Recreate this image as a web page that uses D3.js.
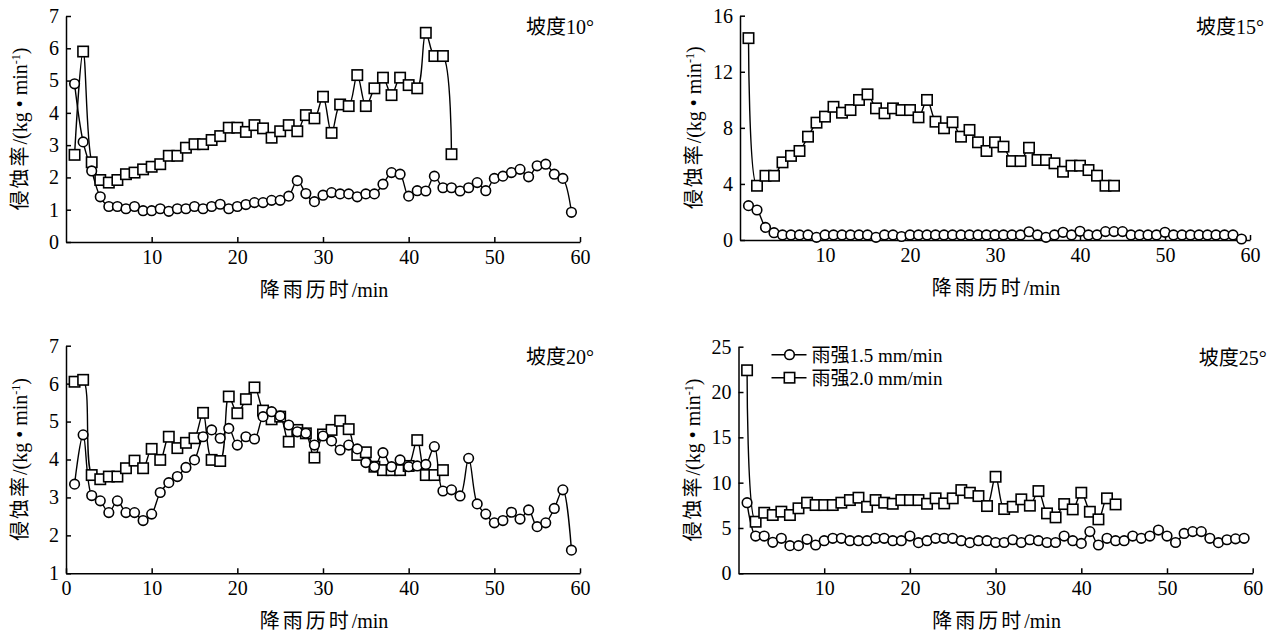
<!DOCTYPE html>
<html>
<head>
<meta charset="utf-8">
<script src="https://cdn.jsdelivr.net/npm/d3@7"></script>
<style>
body { margin: 0; background: #fff; }
text { font-family: "Liberation Serif", "Noto Sans CJK SC", serif; fill: #000; }
.axis path, .axis line { stroke: #000; stroke-width: 1.5; }
</style>
</head>
<body>
<svg id="chart" width="1272" height="637"></svg>
<script>

// rainfall duration, minutes
var minutes = [1,2,3,4,5,6,7,8,9,10,11,12,13,14,15,16,17,18,19,20,
               21,22,23,24,25,26,27,28,29,30,31,32,33,34,35,36,37,38,39,40,
               41,42,43,44,45,46,47,48,49,50,51,52,53,54,55,56,57,58,59];

var seriesNames = ["雨强1.5 mm/min", "雨强2.0 mm/min"];

// slope 10
var slope10_15 = [4.9,3.1,2.2,1.4,1.1,1.1,1.03,1.1,0.97,0.97,
                  1.03,0.95,1.03,1.03,1.1,1.03,1.1,1.17,1.03,1.1,
                  1.16,1.22,1.22,1.29,1.29,1.42,1.9,1.5,1.25,1.45,
                  1.53,1.49,1.49,1.4,1.49,1.49,1.79,2.15,2.1,1.42,
                  1.59,1.58,2.04,1.68,1.68,1.58,1.68,1.84,1.59,1.97,
                  2.04,2.15,2.25,2.02,2.36,2.41,2.1,1.97,0.92];
var slope10_20 = [2.7,5.9,2.47,1.92,1.84,1.92,2.1,2.15,2.25,2.33,
                  2.41,2.67,2.67,2.92,3.03,3.03,3.16,3.28,3.54,3.54,
                  3.41,3.62,3.52,3.23,3.43,3.62,3.43,3.93,3.83,4.5,
                  3.38,4.26,4.21,5.17,4.21,4.76,5.09,4.55,5.09,4.86,
                  4.76,6.48,5.76,5.76,2.72];

// slope 15
var slope15_15 = [2.45,2.14,0.9,0.52,0.36,0.36,0.36,0.36,0.19,0.36,
                  0.36,0.36,0.36,0.36,0.36,0.19,0.36,0.36,0.25,0.36,
                  0.36,0.36,0.36,0.36,0.36,0.36,0.36,0.36,0.36,0.36,
                  0.36,0.36,0.36,0.59,0.36,0.19,0.36,0.55,0.36,0.62,
                  0.36,0.36,0.6,0.6,0.6,0.36,0.36,0.36,0.36,0.55,
                  0.36,0.36,0.36,0.36,0.36,0.36,0.36,0.36,0.07];
var slope15_20 = [14.4,3.87,4.58,4.58,5.54,6.0,6.35,7.37,8.37,8.8,
                  9.5,9.08,9.27,9.99,10.39,9.39,9.04,9.39,9.27,9.27,
                  8.75,9.99,8.44,7.97,8.4,7.37,7.85,6.97,6.35,6.97,
                  6.66,5.63,5.63,6.58,5.71,5.71,5.47,4.87,5.3,5.3,
                  4.99,4.59,3.87,3.87];

// slope 20
var slope20_15 = [3.35,4.65,3.05,2.91,2.6,2.91,2.6,2.6,2.39,2.56,
                  3.13,3.39,3.55,3.79,3.99,4.6,4.78,4.56,4.82,4.38,
                  4.6,4.54,5.13,5.26,5.15,4.91,4.73,4.69,4.38,4.62,
                  4.49,4.25,4.38,4.28,3.92,3.81,4.18,3.81,3.99,3.81,
                  3.83,3.87,4.34,3.17,3.2,3.04,4.03,2.83,2.56,2.33,
                  2.39,2.61,2.43,2.67,2.23,2.33,2.71,3.2,1.61];
var slope20_20 = [6.05,6.1,3.59,3.48,3.55,3.55,3.77,3.97,3.77,4.28,
                  3.99,4.6,4.3,4.44,4.56,5.23,3.99,3.96,5.66,5.22,
                  5.59,5.9,5.29,5.06,5.13,4.47,4.78,4.69,4.05,4.66,
                  4.78,5.02,4.8,4.12,4.19,3.81,3.72,3.72,3.72,3.83,
                  4.51,3.59,3.59,3.72];

// slope 25
var slope25_15 = [7.79,4.11,4.11,3.42,3.86,3.05,3.05,3.75,3.12,3.6,
                  3.86,3.86,3.6,3.6,3.6,3.86,3.86,3.6,3.6,4.11,
                  3.38,3.6,3.86,3.86,3.86,3.6,3.38,3.6,3.6,3.4,
                  3.4,3.7,3.4,3.7,3.6,3.4,3.4,4.11,3.6,3.3,
                  4.6,3.12,3.86,3.6,3.6,4.11,3.86,4.11,4.77,4.11,
                  3.4,4.4,4.6,4.6,3.86,3.38,3.7,3.8,3.86];
var slope25_20 = [22.4,5.69,6.68,6.43,6.8,6.43,7.17,7.79,7.53,7.53,
                  7.53,7.79,8.08,8.34,7.34,8.08,7.79,7.67,8.08,8.08,
                  8.08,7.67,8.27,7.71,8.27,9.18,8.89,8.52,7.42,10.65,
                  7.09,7.34,8.16,7.46,9.07,6.61,6.17,7.64,7.05,8.89,
                  6.79,5.95,8.27,7.6];

var xTicksShort = [10,20,30,40,50,60];
var xTicksFull = [0,10,20,30,40,50,60];
var yTicks10 = [0,1,2,3,4,5,6,7];
var yTicks15 = [0,4,8,12,16];
var yTicks20 = [1,2,3,4,5,6,7];
var yTicks25 = [0,5,10,15,20,25];

var panels = [
    { title: "坡度10°", a: slope10_15, b: slope10_20, yDomain: [0, 7], yTicks: yTicks10, xTicks: xTicksShort,
      left: 66, right: 580, bottom: 242, top: 16, legend: false },
    { title: "坡度15°", a: slope15_15, b: slope15_20, yDomain: [0, 16], yTicks: yTicks15, xTicks: xTicksShort,
      left: 740, right: 1250, bottom: 240, top: 15.7, legend: false },
    { title: "坡度20°", a: slope20_15, b: slope20_20, yDomain: [1, 7], yTicks: yTicks20, xTicks: xTicksFull,
      left: 66, right: 580, bottom: 573.3, top: 345.7, legend: false },
    { title: "坡度25°", a: slope25_15, b: slope25_20, yDomain: [0, 25], yTicks: yTicks25, xTicks: xTicksShort,
      left: 738.5, right: 1252.7, bottom: 573.3, top: 346.7, legend: true }
];

var svg = d3.select("#chart");

function toPoints(vals) {
    return vals.map(function (v, i) { return [minutes[i], v]; });
}

function drawMarkers(g, pts, x, y, kind) {
    if (kind === "circle") {
        g.selectAll("circle.m").data(pts).enter().append("circle")
            .attr("class", "m")
            .attr("cx", function (d) { return x(d[0]); })
            .attr("cy", function (d) { return y(d[1]); })
            .attr("r", 4.8)
            .attr("fill", "#fff").attr("stroke", "#000").attr("stroke-width", 1.6);
    } else {
        g.selectAll("rect.m").data(pts).enter().append("rect")
            .attr("class", "m")
            .attr("x", function (d) { return x(d[0]) - 5.2; })
            .attr("y", function (d) { return y(d[1]) - 5.2; })
            .attr("width", 10.4).attr("height", 10.4)
            .attr("fill", "#fff").attr("stroke", "#000").attr("stroke-width", 1.6);
    }
}

panels.forEach(function (p) {

    var x = d3.scaleLinear().domain([0, 60]).range([p.left, p.right]);
    var y = d3.scaleLinear().domain(p.yDomain).range([p.bottom, p.top]);
    var g = svg.append("g");

    g.append("g")
        .attr("class", "axis")
        .attr("transform", "translate(0," + p.bottom + ")")
        .call(d3.axisBottom(x).tickValues(p.xTicks).tickFormat(d3.format("d"))
            .tickSizeInner(-5).tickSizeOuter(0).tickPadding(8))
        .call(function (s) { s.selectAll("text").style("font-size", "20px"); });

    g.append("g")
        .attr("class", "axis")
        .attr("transform", "translate(" + p.left + ",0)")
        .call(d3.axisLeft(y).tickValues(p.yTicks).tickFormat(d3.format("d"))
            .tickSizeInner(-5).tickSizeOuter(0).tickPadding(7))
        .call(function (s) { s.selectAll("text").style("font-size", "20px"); });

    var line = d3.line()
        .x(function (d) { return x(d[0]); })
        .y(function (d) { return y(d[1]); })
        .curve(d3.curveCatmullRom.alpha(0.5));

    var ptsA = toPoints(p.a), ptsB = toPoints(p.b);

    g.append("path").attr("d", line(ptsB)).attr("fill", "none").attr("stroke", "#000").attr("stroke-width", 1.4);
    g.append("path").attr("d", line(ptsA)).attr("fill", "none").attr("stroke", "#000").attr("stroke-width", 1.4);

    drawMarkers(g.append("g"), ptsB, x, y, "rect");
    drawMarkers(g.append("g"), ptsA, x, y, "circle");

    // panel title
    g.append("text")
        .attr("x", p.right + 14).attr("y", p.top + 18)
        .attr("text-anchor", "end")
        .style("font-size", "20px")
        .text(p.title);

    // axis titles
    var cx = (p.left + p.right) / 2 + 1;
    var xt = g.append("text")
        .attr("x", cx).attr("y", p.bottom + 55)
        .attr("text-anchor", "middle")
        .style("font-size", "20px");
    xt.append("tspan").style("letter-spacing", "3px").text("降雨历时");
    xt.append("tspan").text("/min");

    var yt = g.append("text")
        .attr("transform", "translate(" + (p.left - 39) + "," + ((p.top + p.bottom) / 2) + ") rotate(-90)")
        .attr("text-anchor", "middle")
        .style("font-size", "20px");
    yt.append("tspan").style("letter-spacing", "2px").text("侵蚀率");
    yt.append("tspan").text("/(kg • min");
    yt.append("tspan").attr("dy", -7).style("font-size", "12px").text("-1");
    yt.append("tspan").attr("dy", 7).text(")");

    if (p.legend) {
        var lg = g.append("g");
        var rows = [{ name: seriesNames[0], kind: "circle" }, { name: seriesNames[1], kind: "rect" }];
        rows.forEach(function (r, i) {
            var ly = p.top + 8 + i * 23;
            lg.append("line")
                .attr("x1", p.left + 33).attr("x2", p.left + 68)
                .attr("y1", ly).attr("y2", ly)
                .attr("stroke", "#000").attr("stroke-width", 1.6);
            var mk = lg.append("g");
            if (r.kind === "circle") {
                mk.append("circle").attr("cx", p.left + 51).attr("cy", ly).attr("r", 4.8)
                    .attr("fill", "#fff").attr("stroke", "#000").attr("stroke-width", 1.6);
            } else {
                mk.append("rect").attr("x", p.left + 45.8).attr("y", ly - 5.2).attr("width", 10.4).attr("height", 10.4)
                    .attr("fill", "#fff").attr("stroke", "#000").attr("stroke-width", 1.6);
            }
            lg.append("text")
                .attr("x", p.left + 73).attr("y", ly + 7)
                .style("font-size", "19px")
                .text(r.name);
        });
    }
});

</script>
</body>
</html>
